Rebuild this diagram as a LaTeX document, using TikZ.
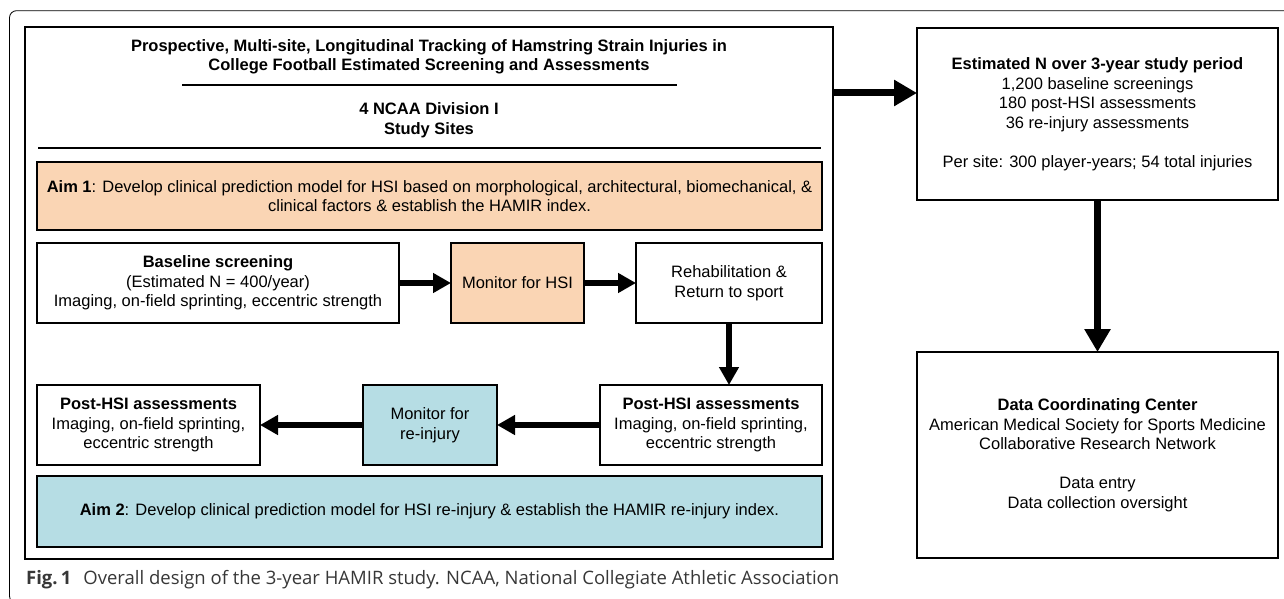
\documentclass[tikz,border=0pt]{standalone}
\usepackage{xcolor}
\usepackage{fontspec}
\setmainfont{Liberation Sans}
\newfontfamily\capfont{Open Sans}
\usepackage{tikz}
\usetikzlibrary{positioning, arrows.meta}

\definecolor{peach}{RGB}{250,213,180}
\definecolor{paleblue}{RGB}{182,221,228}
\definecolor{capgray}{RGB}{55,55,55}

\begin{document}
\begin{tikzpicture}[x=1pt, y=-1pt, node distance=52pt,
    box/.style={draw, line width=2.8pt, outer sep=0pt, align=center, minimum height=80pt, inner sep=2pt, font=\fontsize{16.5}{19.5}\selectfont},
    txt/.style={align=center, font=\fontsize{16.5}{19.5}\selectfont},
    head/.style={align=center, font=\fontsize{16.5}{19.5}\selectfont\bfseries},
    rule/.style={line width=2.8pt},
    bigarrow/.style={line width=7pt, -{Triangle[length=23pt, width=25pt]}},
    arrow/.style={line width=5.5pt, -{Triangle[length=18pt, width=19pt]}}]
      \useasboundingbox (0,0) rectangle (1284,599);
      \clip (0,0) rectangle (1284,599);
      \draw[line width=0.8pt, rounded corners=7pt] (9.5,10.7) rectangle (1300,603);

      \node[box, minimum width=808pt, minimum height=532pt] (study) at (429,293) {};
      \node[head] (title) at (429,57) {Prospective, Multi-site, Longitudinal Tracking of Hamstring Strain Injuries in\\College Football Estimated Screening and Assessments};
      \draw[rule] (182,85) -- (677,85);
      \node[head] (sites) at (429,120) {4 NCAA Division I\\Study Sites};
      \draw[rule] (38,148) -- (821,148);

      \node[box, fill=peach, minimum width=785pt, minimum height=68pt] (aim_1) at (429.5,196)
        {\textbf{Aim 1}: Develop clinical prediction model for HSI based on morphological, architectural, biomechanical, \&\\clinical factors \& establish the HAMIR index.};
      \node[box, minimum width=362pt] (base) at (218,283)
        {\textbf{Baseline screening}\\(Estimated N = 400/year)\\Imaging, on-field sprinting, eccentric strength};
      \node[box, fill=peach, minimum width=133pt] (mon_1) [right=of base] {Monitor for HSI};
      \node[box, minimum width=186pt] (rehab) [right=of mon_1] {Rehabilitation \&\\Return to sport};
      \node[box, minimum width=222pt] (post_2) [below=62pt of rehab.south east, anchor=north east]
        {\textbf{Post-HSI assessments}\\Imaging, on-field sprinting,\\eccentric strength};
      \node[box, fill=paleblue, minimum width=134pt] (mon_2) [left=103pt of post_2] {Monitor for\\re-injury};
      \node[box, minimum width=223pt] (post_1) [left=103pt of mon_2]
        {\textbf{Post-HSI assessments}\\Imaging, on-field sprinting,\\eccentric strength};
      \node[box, fill=paleblue, minimum width=785pt, minimum height=71pt] (aim_2) at (429.5,511.5)
        {\textbf{Aim 2}: Develop clinical prediction model for HSI re-injury \& establish the HAMIR re-injury index.};

      \node[box, minimum width=361pt, minimum height=172pt] (est) at (1097.5,114)
        {\textbf{Estimated N over 3-year study period}\\1,200 baseline screenings\\180 post-HSI assessments\\36 re-injury assessments\\[19.5pt]Per site: 300 player-years; 54 total injuries};
      \node[box, minimum width=361pt, minimum height=206pt] (dcc) [below=152pt of est]
        {\textbf{Data Coordinating Center}\\American Medical Society for Sports Medicine\\Collaborative Research Network\\[19.5pt]Data entry\\Data collection oversight};

      \node[anchor=west, inner sep=0pt, text=capgray, font=\capfont\fontsize{18.5}{21}\selectfont] (cap) at (26,580)
        {\textbf{Fig.\,1}\hspace{12pt}Overall design of the 3-year HAMIR study. NCAA, National Collegiate Athletic Association};

      \path[arrow]
        (base)        edge (mon_1)
        (mon_1)       edge (rehab)
        (rehab.south) edge (rehab.south |- post_2.north)
        (post_2)      edge (mon_2)
        (mon_2)       edge (post_1);
      \path[bigarrow]
        ([yshift=21pt]est.west -| study.east) edge ([yshift=21pt]est.west)
        (est)         edge (dcc);
    \end{tikzpicture}
\end{document}
